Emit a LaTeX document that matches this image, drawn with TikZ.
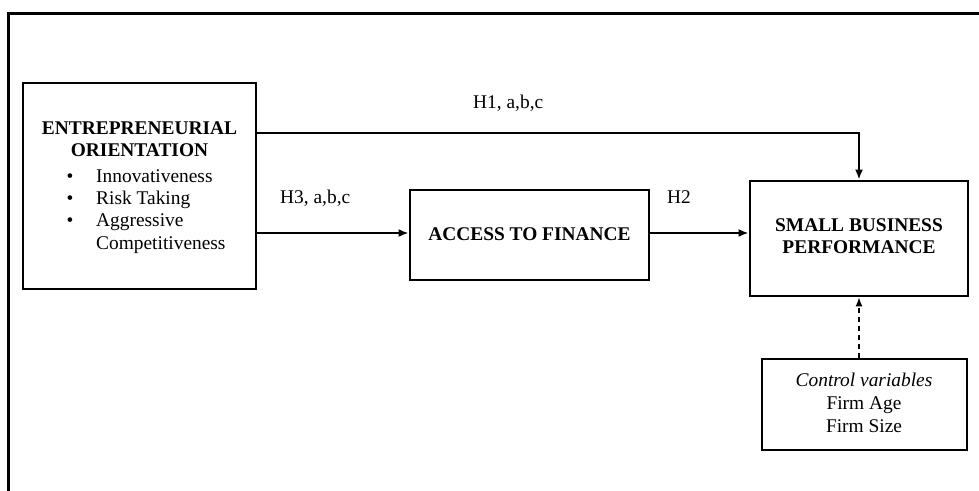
\documentclass[tikz,border=0pt]{standalone}
\usepackage{fontspec}
\setmainfont{Liberation Serif}
\usetikzlibrary{arrows.meta,positioning}
\begin{document}
\begin{tikzpicture}[x=1pt,y=-1pt,
  txt/.style={font=\fontsize{19.4}{21.5}\selectfont, inner sep=0pt},
  boldtxt/.style={txt, font=\fontsize{19.4}{21.5}\selectfont\bfseries},
  heavybox/.style={draw, line width=2.8pt, inner sep=0pt},
  lightbox/.style={draw, line width=1.3pt, inner sep=0pt},
  link/.style={line width=2.2pt, -{Latex[length=10pt,width=8pt]}},
  dashlink/.style={line width=1.2pt, dash pattern=on 5pt off 4pt, -{Latex[length=9pt,width=7pt]}}]
  \useasboundingbox (0,0) rectangle (979,490);
  \fill[white] (0,0) rectangle (979,490);
  % frame around the figure (right and bottom edges run off the page)
  \draw[line width=3pt] (8.5,495) -- (8.5,13.5) -- (985,13.5);

  % boxes
  \node[heavybox, minimum width=233pt, minimum height=206pt] (eo) at (139.5,186) {};
  \node[heavybox, minimum width=239pt, minimum height=90pt] (fin) at (529.5,235) {};
  \node[heavybox, minimum width=218pt, minimum height=115pt] (sbp) at (859,238.5) {};
  \node[lightbox, minimum width=205pt, minimum height=91pt] (ctrl) at (864.5,404.5) {};

  % entrepreneurial orientation
  \node[boldtxt, anchor=base] (eot1) at (139.5,134) {ENTREPRENEURIAL};
  \node[boldtxt, anchor=base] (eot2) at (139.5,156) {ORIENTATION};
  \node[txt, anchor=base] (b1) at (70,182) {\textbullet};
  \node[txt, anchor=base] (b2) at (70,204) {\textbullet};
  \node[txt, anchor=base] (b3) at (70,226) {\textbullet};
  \node[txt, anchor=base west] (i1) at (96,182) {Innovativeness};
  \node[txt, anchor=base west] (i2) at (96,204) {Risk Taking};
  \node[txt, anchor=base west] (i3) at (96,226) {Aggressive};
  \node[txt, anchor=base west] (i4) at (96,249) {Competitiveness};

  % other box texts
  \node[boldtxt, anchor=base] (fint) at (529.5,240) {ACCESS TO FINANCE};
  \node[boldtxt, anchor=base] (sbp1) at (859,231) {SMALL BUSINESS};
  \node[boldtxt, anchor=base] (sbp2) at (859,253) {PERFORMANCE};
  \node[txt, font=\fontsize{19.4}{21.5}\selectfont\itshape, anchor=base] (c1) at (864,386.5) {Control variables};
  \node[txt, anchor=base] (c2) at (864,409.5) {Firm Age};
  \node[txt, anchor=base] (c3) at (864,432.5) {Firm Size};

  % hypothesis labels
  \node[txt, anchor=base west] (h1) at (473,108) {H1, a,b,c};
  \node[txt, anchor=base west] (h3) at (280,203) {H3, a,b,c};
  \node[txt, anchor=base west] (h2) at (667,203) {H2};

  % connectors
  \coordinate (h1bend) at (859,133);
  \draw[link] (eo.east |- h1bend) -- (h1bend) -- (sbp.north);
  \coordinate (h3row) at (0,233);
  \draw[link] (eo.east |- h3row) -- (fin.west |- h3row);
  \draw[link] (fin.east |- h3row) -- (sbp.west |- h3row);
  \draw[dashlink] (ctrl.north -| sbp.south) -- (sbp.south);
\end{tikzpicture}
\end{document}
